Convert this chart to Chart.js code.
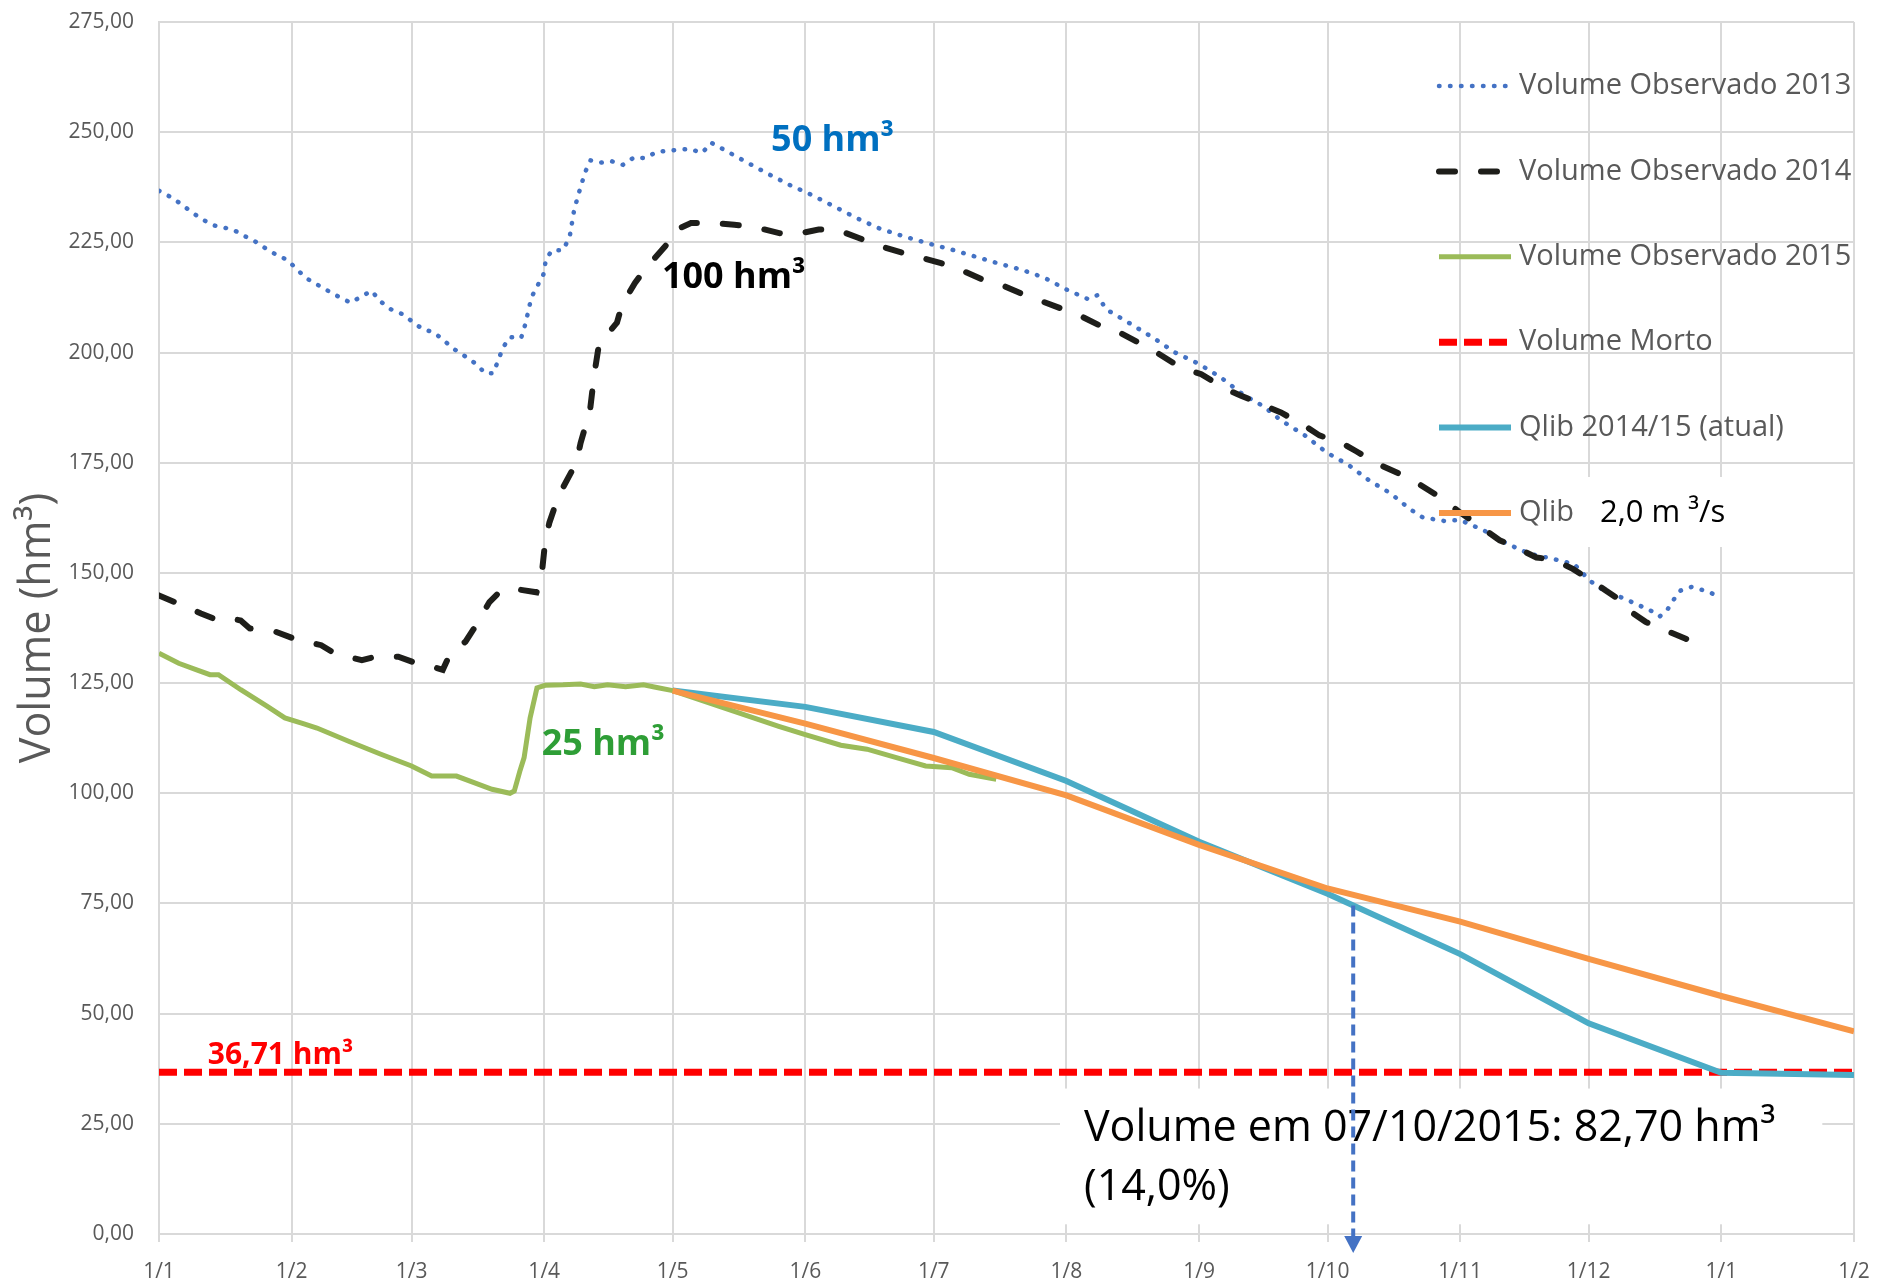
<!DOCTYPE html>
<html>
<head>
<meta charset="utf-8">
<script src="https://cdn.jsdelivr.net/npm/chart.js@4.4.1/dist/chart.umd.min.js"></script>
<style>
  html, body { margin: 0; padding: 0; background: #fff; }
  #chart { display: block; }
</style>
</head>
<body>
<canvas id="chart" width="1878" height="1286"></canvas>
<script>
// x axis in days counted from 1 January (0) up to 1 February of the next year (396)
const tickDays = [0, 31, 59, 90, 120, 151, 181, 212, 243, 273, 304, 334, 365, 396];
const tickLabels = ['1/1', '1/2', '1/3', '1/4', '1/5', '1/6', '1/7', '1/8', '1/9', '1/10', '1/11', '1/12', '1/1', '1/2'];

// Volume Observado 2013
const days2013 = [0, 3.1, 5.7, 8, 10.3, 13, 15, 17.5, 19.6, 22.2, 24.8, 27.4, 30, 34.2, 36.8, 39.5, 42.1, 44.8, 47.4, 49.7,
  51.6, 54.2, 56.9, 61.6, 64.2, 66.6, 68.9, 71.3, 74.1, 76.2, 78.1, 80.4, 82, 84.6, 85.6, 87, 89.8, 90.4, 91.8, 94.3,
  95.9, 97, 98.5, 99.6, 100.8, 103.2, 105.8, 108.4, 111, 113.6, 116.2, 118.8, 124, 126.9, 129, 131.3, 136.5, 142.2, 147.4, 152.6,
  157.8, 163, 168.2, 173.9, 179.6, 185.4, 190.6, 195.8, 201.5, 206.8, 212, 217.1, 219.2, 221.3, 226.5, 232.2, 237.4, 243, 248, 253.1,
  258.2, 262, 267.7, 272.8, 277.9, 282.7, 287.8, 292.2, 295.2, 300.1, 304, 309.6, 315, 320, 325.6, 330.6, 334.3, 338, 341.5, 345,
  349, 350.6, 352.5, 354, 355.5, 358, 361.1, 364];
const vol2013 = [236.7, 235.1, 233.3, 231.6, 230.1, 228.8, 228.4, 227.8, 226.6, 225.4, 223.7, 222.2, 221, 217, 215.5, 214, 212.6, 211.3, 212.8, 214,
  211.7, 209.8, 208.7, 205.3, 204.6, 202.7, 200.8, 199.3, 197.4, 195.3, 195.3, 201.2, 203.5, 203.3, 206.5, 212.5, 217.7, 221.1, 223.2, 223.2,
  226, 232.4, 237.6, 241, 243.6, 243.1, 243.4, 242.6, 244.3, 244.1, 245.5, 245.8, 246.2, 245.3, 247.6, 246.4, 243.6, 240.6, 238, 235.7,
  233.1, 230.5, 228.2, 226.4, 224.8, 223.3, 221.8, 220.3, 218.8, 217, 214.3, 212.1, 213, 209.8, 206.8, 203.4, 200, 197.4, 194.4, 190.6,
  187.7, 184.7, 181.2, 177.3, 174.5, 171, 168, 164.5, 162.6, 161.8, 162, 159.6, 156.6, 154.4, 153.2, 152, 148.2, 145.7, 144.5, 143,
  141.2, 140.1, 141.8, 144.1, 146, 146.8, 146, 144.9];

// Volume Observado 2014
const days2014 = [0, 4.6, 9.8, 13.9, 17, 19.1, 21.2, 27.4, 31.5, 37.9, 41.1, 47.4, 50.6, 55.9, 60.1, 63, 66.3, 67.9, 71.6, 73.6,
  77.2, 79.9, 83, 88.2, 89.3, 90.2, 91.2, 93.3, 97.5, 98.5, 100.7, 101.7, 102.8, 107, 108.2, 111.2, 113.8, 118.5, 120, 124.3,
  129.2, 134.4, 138.6, 144.9, 148, 154.1, 158.3, 163.5, 167.1, 173.9, 177, 182.7, 186.3, 192.5, 196.7, 201.9, 206.1, 211.3, 215.3, 220.9,
  224.5, 229.5, 233.1, 238.7, 243.5, 249.2, 252.8, 258.5, 262.1, 267.7, 271.1, 276.3, 279.7, 284.8, 289.6, 294.3, 298.6, 303.7, 308, 313.2,
  316.6, 321.8, 326, 330.3, 334.6, 338, 340.8, 342.8, 347.3, 350.8, 356.4, 360.4];
const vol2014 = [144.9, 143, 140.8, 139.2, 139.6, 139.2, 137.4, 136.6, 135.1, 133.6, 131.7, 130.2, 131, 131, 129.5, 129, 128, 131.4, 134.4, 137.4,
  143.4, 146, 146.4, 145.6, 148.6, 156.9, 161.4, 167.4, 175, 179.5, 186.9, 195.1, 201.9, 206.8, 210.9, 215.8, 219.2, 224.4, 227.5, 229.4,
  229.4, 229, 228.6, 227.1, 226.7, 227.9, 227.9, 226, 224.5, 222.6, 221.8, 220.3, 219.2, 216.5, 215.4, 213.2, 211.7, 209.8, 208.3, 205.6,
  204.5, 201.9, 200, 196.6, 195.1, 191.7, 190.2, 187.9, 186.4, 183.4, 181.2, 179.5, 177.6, 174.7, 172.6, 170.2, 167.6, 163.9, 161, 157.4,
  156, 153.5, 153, 150.9, 148.3, 146, 144.2, 141.9, 138.9, 137.4, 135.2, 133.3];

// Volume Observado 2015
const days2015 = [0, 4.6, 8.8, 11.9, 13.9, 19.1, 25.3, 29.4, 33.7, 36.9, 44.3, 51.7, 59, 63.7, 69.5, 73.6, 77.8, 82, 83, 84.3,
  85.3, 86.7, 88.3, 90.2, 94.4, 98.5, 101.7, 104.8, 109, 113.2, 116.3, 120, 134.4, 144.8, 151, 159.3, 165.4, 173.7, 179.1, 185.2,
  189.3, 195.6];
const vol2015 = [131.8, 129.5, 128, 126.9, 126.9, 123.5, 119.7, 117.1, 115.8, 114.8, 111.8, 108.9, 106.2, 103.9, 103.9, 102.4, 100.9, 100, 100.5, 105,
  108.1, 117.1, 123.9, 124.5, 124.6, 124.8, 124.2, 124.6, 124.2, 124.6, 124, 123.3, 118.6, 115.2, 113.3, 110.9, 110, 107.7, 106.2, 105.8,
  104.3, 103.2];

// Volume Morto
const daysMorto = [0, 396];
const volMorto = [36.71, 36.71];

// Qlib 2014/15 (atual)
const daysQlibAtual = [120, 151, 181, 212, 243, 273, 304, 334, 365, 396];
const volQlibAtual = [123.3, 119.6, 113.9, 102.8, 89, 77.2, 63.5, 47.8, 36.6, 36.1];

// Qlib 2,0 m3/s
const daysQlib2 = [120, 151, 181, 212, 243, 273, 304, 334, 365, 396];
const volQlib2 = [123.3, 115.8, 108, 99.5, 88.3, 78.4, 70.9, 62.4, 54, 46];

// 7 October 2015
const arrowDay = 279;

const GRID = '#d9d9d9';
const GRAY = '#595959';
const FONT = "'Open Sans', 'DejaVu Sans', sans-serif";

const toPoints = (xs, ys) => xs.map((x, i) => ({ x: x, y: ys[i] }));

function valueAt(xs, ys, d) {
    for (let i = 1; i < xs.length; i++) {
        if (d <= xs[i]) {
            const t = (d - xs[i - 1]) / (xs[i] - xs[i - 1]);
            return ys[i - 1] + t * (ys[i] - ys[i - 1]);
        }
    }
    return ys[ys.length - 1];
}

// text written on the plot (positions in day / volume units)
const notes = [
    { text: '50 hm³', day: 143, vol: 248, color: '#0070C0', size: 36 },
    { text: '100 hm³', day: 117.5, vol: 217, color: '#000000', size: 36 },
    { text: '25 hm³', day: 89.4, vol: 110.9, color: '#2E9E36', size: 36 },
    { text: '36,71 hm³', day: 11.4, vol: 40.5, color: '#FF0000', size: 30 }
];

const legendBox = { x0: 1439, x1: 1511, textX: 1519, top: 86, step: 85.4 };

const overlayPlugin = {
    id: 'overlay',
    afterDatasetsDraw(chart) {
        const { ctx, scales: { x, y } } = chart;

        // legend inside the plot
        chart.data.datasets.forEach((ds, i) => {
            const ly = legendBox.top + i * legendBox.step;
            ctx.save();
            ctx.strokeStyle = ds.borderColor;
            ctx.lineWidth = ds.borderWidth;
            ctx.lineCap = ds.borderCapStyle || 'butt';
            ctx.setLineDash(ds.borderDash || []);
            ctx.beginPath();
            ctx.moveTo(legendBox.x0, ly);
            ctx.lineTo(legendBox.x1, ly);
            ctx.stroke();
            ctx.restore();

            ctx.save();
            ctx.fillStyle = GRAY;
            ctx.font = '29px ' + FONT;
            ctx.textBaseline = 'middle';
            ctx.textAlign = 'left';
            ctx.fillText(ds.label, legendBox.textX, ly);
            ctx.restore();
        });

        // "2,0 m³/s" box next to the last legend entry
        const qy = legendBox.top + 5 * legendBox.step;
        ctx.save();
        ctx.fillStyle = '#ffffff';
        ctx.fillRect(1580, qy - 36, 155, 70);
        ctx.fillStyle = '#000000';
        ctx.font = '31px ' + FONT;
        ctx.textBaseline = 'middle';
        ctx.fillText('2,0 m ³/s', 1600, qy);
        ctx.restore();

        // bold labels
        notes.forEach(n => {
            ctx.save();
            ctx.fillStyle = n.color;
            ctx.font = 'bold ' + n.size + 'px ' + FONT;
            ctx.textBaseline = 'middle';
            ctx.textAlign = 'left';
            ctx.fillText(n.text, x.getPixelForValue(n.day), y.getPixelForValue(n.vol));
            ctx.restore();
        });

        // text box with the current volume
        const bx0 = x.getPixelForValue(210.5), bx1 = x.getPixelForValue(388.6);
        const by0 = y.getPixelForValue(33), by1 = y.getPixelForValue(2.2);
        ctx.save();
        ctx.fillStyle = '#ffffff';
        ctx.fillRect(bx0, by0, bx1 - bx0, by1 - by0);
        ctx.fillStyle = '#000000';
        ctx.font = '43px ' + FONT;
        ctx.textBaseline = 'middle';
        ctx.fillText('Volume em 07/10/2015: 82,70 hm³', x.getPixelForValue(216.1), y.getPixelForValue(23.8));
        ctx.fillText('(14,0%)', x.getPixelForValue(216.1), y.getPixelForValue(10.4));
        ctx.restore();

        // dashed arrow from the Qlib (atual) line down to the date axis
        const ax = x.getPixelForValue(arrowDay);
        const aTop = y.getPixelForValue(valueAt(daysQlibAtual, volQlibAtual, arrowDay));
        const base = y.getPixelForValue(0);
        ctx.save();
        ctx.strokeStyle = '#4472C4';
        ctx.lineWidth = 4;
        ctx.setLineDash([11, 6]);
        ctx.beginPath();
        ctx.moveTo(ax, aTop);
        ctx.lineTo(ax, base + 3);
        ctx.stroke();
        ctx.setLineDash([]);
        ctx.fillStyle = '#4472C4';
        ctx.beginPath();
        ctx.moveTo(ax - 9, base + 2);
        ctx.lineTo(ax + 9, base + 2);
        ctx.lineTo(ax, base + 19);
        ctx.closePath();
        ctx.fill();
        ctx.restore();
    }
};

const lineBase = { pointRadius: 0, tension: 0, fill: false };

new Chart(document.getElementById('chart').getContext('2d'), {
    type: 'line',
    data: {
        datasets: [
            Object.assign({ label: 'Volume Observado 2013', data: toPoints(days2013, vol2013), borderColor: '#4472C4',
                borderWidth: 4.5, borderDash: [0.5, 10.5], borderCapStyle: 'round', order: 2 }, lineBase),
            Object.assign({ label: 'Volume Observado 2014', data: toPoints(days2014, vol2014), borderColor: '#1e1e1a',
                borderWidth: 6, borderDash: [16, 26], borderCapStyle: 'round', order: 1 }, lineBase),
            Object.assign({ label: 'Volume Observado 2015', data: toPoints(days2015, vol2015), borderColor: '#9BBB59',
                borderWidth: 5, order: 4 }, lineBase),
            Object.assign({ label: 'Volume Morto', data: toPoints(daysMorto, volMorto), borderColor: '#FF0000',
                borderWidth: 7, borderDash: [18, 7], order: 6 }, lineBase),
            Object.assign({ label: 'Qlib 2014/15 (atual)', data: toPoints(daysQlibAtual, volQlibAtual), borderColor: '#4BACC6',
                borderWidth: 6, order: 5 }, lineBase),
            Object.assign({ label: 'Qlib', data: toPoints(daysQlib2, volQlib2), borderColor: '#F79646',
                borderWidth: 6, order: 3 }, lineBase)
        ]
    },
    options: {
        responsive: false,
        animation: false,
        layout: { padding: { left: 4, right: 24, top: 22, bottom: 0 } },
        plugins: { legend: { display: false }, tooltip: { enabled: false } },
        scales: {
            x: {
                type: 'linear',
                min: 0,
                max: 396,
                afterBuildTicks: scale => { scale.ticks = tickDays.map(v => ({ value: v })); },
                afterFit: scale => {
                    scale.height = 52;
                    scale.paddingLeft = 0;
                    scale.paddingRight = 0;
                },
                grid: { color: GRID, lineWidth: 2, tickLength: 8 },
                border: { color: GRID, width: 2 },
                ticks: {
                    padding: 17,
                    maxRotation: 0,
                    autoSkip: false,
                    color: GRAY,
                    font: { family: FONT, size: 21 },
                    callback: value => tickLabels[tickDays.indexOf(value)]
                }
            },
            y: {
                min: 0,
                max: 275,
                afterFit: scale => {
                    scale.width = 155;
                    scale.paddingTop = 0;
                    scale.paddingBottom = 0;
                },
                grid: { color: GRID, lineWidth: 2, drawTicks: false },
                border: { color: GRID, width: 2 },
                ticks: {
                    stepSize: 25,
                    padding: 25,
                    color: GRAY,
                    font: { family: FONT, size: 21 },
                    callback: value => value.toFixed(2).replace('.', ',')
                },
                title: {
                    display: true,
                    text: 'Volume (hm³)',
                    color: GRAY,
                    padding: { top: 12, bottom: 0 },
                    font: { family: FONT, size: 43, lineHeight: 1 }
                }
            }
        }
    },
    plugins: [overlayPlugin]
});
</script>
</body>
</html>
